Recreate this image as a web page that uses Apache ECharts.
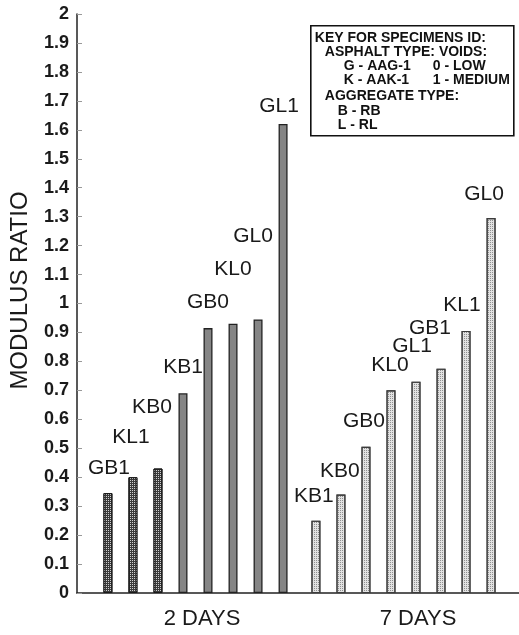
<!DOCTYPE html>
<html>
<head>
<meta charset="utf-8">
<script src="https://cdn.jsdelivr.net/npm/echarts@6/dist/echarts.min.js"></script>
<style>
  html, body { margin: 0; padding: 0; background: #fff; }
  #chart { width: 519px; height: 635px; }
</style>
</head>
<body>
<div id="chart"></div>
<script>
// Curing periods (one category per group of bars)
const days = ['2 DAYS', '7 DAYS'];

// Specimen IDs and modulus ratios, in bar order within each group
const ids2 = ['GB1', 'KL1', 'KB0', 'KB1', 'GB0', 'KL0', 'GL0', 'GL1'];
const ratio2 = [0.345, 0.40, 0.43, 0.69, 0.915, 0.93, 0.945, 1.62];
const ids7 = ['KB1', 'KB0', 'GB0', 'KL0', 'GL1', 'GB1', 'KL1', 'GL0'];
const ratio7 = [0.25, 0.34, 0.505, 0.70, 0.73, 0.775, 0.905, 1.295];

// Y axis range and step
const yMin = 0, yMax = 2, yStep = 0.1;

// Hand placement tweaks for the ID labels (pixels, [dx, dy])
const nudge2 = [[1, 0], [-2, -15], [-6, -37], [0, -2], [0, -1], [0, -30], [-5, -59], [-4, 7]];
const nudge7 = [[-2, 0], [-1, 1], [-2, -1], [-1, -1], [-4, -11], [-11, -16], [-4, -1], [-7, 1]];

const FONT = 'Liberation Sans, Arial, Helvetica, sans-serif';

// Fill styles: speckled dark, plain mid grey, and light dotted
const styleSpeckled = {
  color: '#3a3a3a', borderColor: '#1a1a1a', borderWidth: 1,
  decal: { symbol: 'rect', symbolSize: 1, dashArrayX: [1, 1], dashArrayY: [1, 1], color: 'rgba(235,235,235,0.85)' }
};
const styleGrey = { color: '#858585', borderColor: '#222', borderWidth: 1.3 };
const styleDotted = {
  color: '#e2e2e2', borderColor: '#3c3c3c', borderWidth: 1.1,
  decal: { symbol: 'rect', symbolSize: 1, dashArrayX: [1, 1], dashArrayY: [1, 1], color: 'rgba(110,110,110,0.7)' }
};

function barItem(value, name, nudge, style) {
  return {
    value: value,
    itemStyle: style,
    label: { formatter: name, offset: nudge }
  };
}

const series = ids2.map(function (_, i) {
  return {
    type: 'bar',
    xAxisIndex: 1,
    yAxisIndex: 1,
    barWidth: 9,
    barGap: '178%',
    label: {
      show: true, position: 'top', distance: 14,
      fontFamily: FONT, fontSize: 21, color: '#1a1a1a'
    },
    data: [
      barItem(ratio2[i], ids2[i], nudge2[i], i < 3 ? styleSpeckled : styleGrey),
      barItem(ratio7[i], ids7[i], nudge7[i], styleDotted)
    ]
  };
});

const chart = echarts.init(document.getElementById('chart'), null, { renderer: 'canvas' });

const keyFont = 'bold 14px ' + FONT;
function keyText(x, y, text) {
  return { type: 'text', x: x, y: y, style: { text: text, font: keyFont, fill: '#111', verticalAlign: 'middle' } };
}

chart.setOption({
  animation: false,
  backgroundColor: '#ffffff',
  grid: [
    { left: 75, right: 0, top: 14, bottom: 42 },
    { left: 91.5, width: 416, top: 14, bottom: 42 }
  ],
  xAxis: [
    {
      gridIndex: 0, type: 'value', min: 0, max: 1,
      axisLine: { show: true, lineStyle: { color: '#222', width: 1.5 } },
      axisTick: { show: false }, axisLabel: { show: false }, splitLine: { show: false }
    },
    {
      gridIndex: 1, type: 'category',
      data: [
        { value: days[0], textStyle: { padding: [0, 0, 0, 13] } },
        { value: days[1], textStyle: { padding: [0, 0, 0, 29] } }
      ],
      axisLine: { show: false }, axisTick: { show: false },
      axisLabel: { margin: 15, fontFamily: FONT, fontSize: 22, color: '#1a1a1a' }
    }
  ],
  yAxis: [
    {
      gridIndex: 0, type: 'value', min: yMin, max: yMax, interval: yStep,
      name: 'MODULUS RATIO', nameLocation: 'middle', nameRotate: 90, nameGap: 45,
      nameTextStyle: { fontFamily: FONT, fontSize: 24, color: '#1a1a1a', padding: [0, 0, 0, 26] },
      axisLine: { show: true, lineStyle: { color: '#222', width: 1.5 } },
      axisTick: { show: true, inside: true, length: 5, lineStyle: { color: '#999' } },
      axisLabel: { margin: 8, fontFamily: FONT, fontSize: 18, fontWeight: 'bold', color: '#1a1a1a' },
      splitLine: { show: false }
    },
    {
      gridIndex: 1, type: 'value', min: yMin, max: yMax, show: false, splitLine: { show: false }
    }
  ],
  series: series,
  graphic: [
    {
      type: 'group', left: 310, top: 25,
      children: [
        { type: 'rect', shape: { x: 0, y: 0, width: 203, height: 110 },
          style: { fill: '#fff', stroke: '#111', lineWidth: 1.6 } },
        keyText(4, 12, 'KEY FOR SPECIMENS ID:'),
        keyText(14, 26, 'ASPHALT TYPE: VOIDS:'),
        keyText(33, 40, 'G - AAG-1'),
        keyText(122, 40, '0 - LOW'),
        keyText(33, 54, 'K - AAK-1'),
        keyText(122, 54, '1 - MEDIUM'),
        keyText(14, 70, 'AGGREGATE TYPE:'),
        keyText(27, 85, 'B - RB'),
        keyText(27, 99, 'L - RL')
      ]
    }
  ]
});
</script>
</body>
</html>
